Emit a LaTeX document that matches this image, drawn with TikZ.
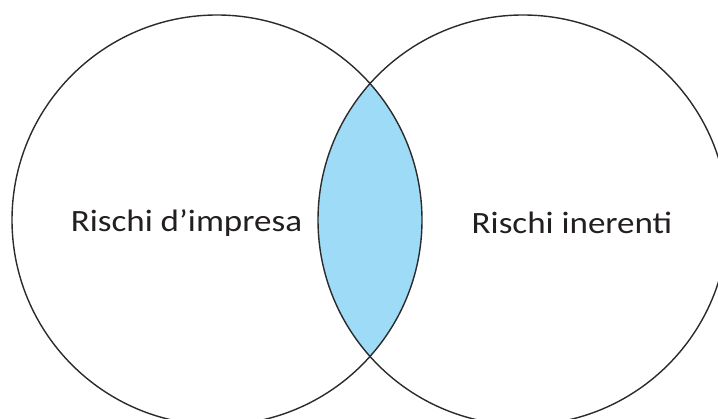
\documentclass[tikz,border=0pt]{standalone}
\usepackage{fontspec}
\setmainfont[FakeStretch=1.13]{Carlito}
\usetikzlibrary{positioning}
\definecolor{lensblue}{HTML}{9DDBF6}
\definecolor{inkgray}{HTML}{2B2B2B}
\definecolor{labelink}{HTML}{231F20}

\begin{document}
\begin{tikzpicture}[x=1pt,y=1pt,ring/.style={circle,draw=inkgray,line width=1.4pt,minimum size=410pt,inner sep=0pt},label text/.style={text=labelink,font=\fontsize{31}{37}\selectfont,inner sep=0pt}]
    \clip (0,0) rectangle (718,419);
    % overlap of the two sets
    \begin{scope}
      \clip (217,199) circle (205pt);
      \fill[lensblue] (523,199) circle (205pt);
    \end{scope}
    \node[ring] (impresa) at (217,199) {};
    \node[ring] (inerenti) at (523,199) {};
    \node[label text] (lblimpresa) at (186.5,196) {Rischi d’impresa};
    \node[label text] (lblinerenti) at (572,196) {Rischi inerenti};
  \end{tikzpicture}
\end{document}
